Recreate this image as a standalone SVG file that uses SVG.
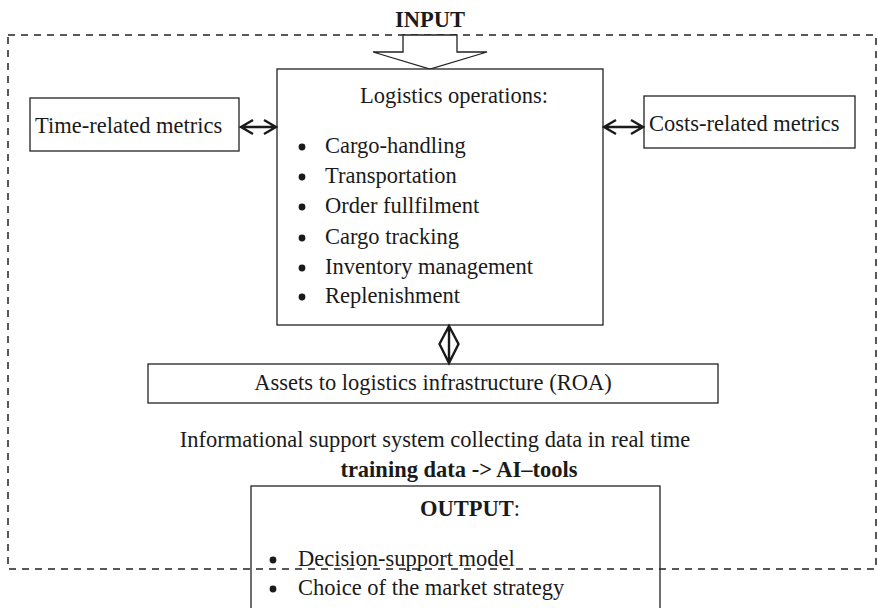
<svg xmlns="http://www.w3.org/2000/svg" width="877" height="608" viewBox="0 0 877 608">
<style>
  .box { fill: #fff; stroke: #222; stroke-width: 1.3; }
  .obox { fill: none; stroke: #222; stroke-width: 1.3; }
  .t { font-family: "Liberation Serif", "Times New Roman", serif; font-size: 22.5px; fill: #1a1a1a; }
  .b { font-weight: bold; }
  .ln { fill: none; stroke: #1a1a1a; stroke-width: 2.4; }
  .frame { fill: none; stroke: #222; stroke-width: 1.5; stroke-dasharray: 7 6; }
</style>
<rect id="frame" class="frame" x="8" y="35" width="868" height="534"/>
<g id="input">
  <text class="t b" x="430" y="27" text-anchor="middle">INPUT</text>
  <polygon class="box" points="403,35 457,35 457,52 487,52 430,69 373,52 403,52"/>
</g>
<g id="logistics">
  <rect class="box" x="277" y="69" width="326" height="256"/>
  <text class="t" x="360" y="103">Logistics operations:</text>
  <g class="t">
    <circle cx="302" cy="147" r="3.4" fill="#1a1a1a"/><text x="325" y="153">Cargo-handling</text>
    <circle cx="302" cy="177" r="3.4" fill="#1a1a1a"/><text x="325" y="183">Transportation</text>
    <circle cx="302" cy="207" r="3.4" fill="#1a1a1a"/><text x="325" y="213">Order fullfilment</text>
    <circle cx="302" cy="238" r="3.4" fill="#1a1a1a"/><text x="325" y="244">Cargo tracking</text>
    <circle cx="302" cy="268" r="3.4" fill="#1a1a1a"/><text x="325" y="274">Inventory management</text>
    <circle cx="302" cy="297" r="3.4" fill="#1a1a1a"/><text x="325" y="303">Replenishment</text>
  </g>
</g>
<g id="time">
  <rect class="box" x="30" y="98" width="209" height="53"/>
  <text class="t" x="35" y="133">Time-related metrics</text>
</g>
<g id="costs">
  <rect class="box" x="644" y="96" width="211" height="52"/>
  <text class="t" x="649" y="131">Costs-related metrics</text>
</g>
<g id="assets">
  <rect class="box" x="148" y="364" width="570" height="39"/>
  <text class="t" x="433" y="390" text-anchor="middle">Assets to logistics infrastructure (ROA)</text>
</g>
<g id="info">
  <text class="t" x="435" y="447" text-anchor="middle">Informational support system collecting data in real time</text>
  <text class="t b" x="459" y="477" text-anchor="middle">training data -&gt; AI–tools</text>
</g>
<g id="output">
  <rect class="obox" x="251" y="486" width="409" height="140"/>
  <text class="t" x="420" y="516"><tspan class="b">OUTPUT</tspan>:</text>
  <circle cx="273" cy="560" r="3.4" fill="#1a1a1a"/><text class="t" x="298" y="566">Decision-support model</text>
  <circle cx="273" cy="589" r="3.4" fill="#1a1a1a"/><text class="t" x="298" y="595">Choice of the market strategy</text>
</g>
<g id="connectors">
  <path class="ln" d="M241,127 H276 M253,120 L241,127 L253,134 M264,120 L276,127 L264,134"/>
  <path class="ln" d="M604,127 H643 M616,120 L604,127 L616,134 M631,120 L643,127 L631,134"/>
  <path class="ln" d="M449,326 V363 M449,326 L439.5,344 L449,363 L458.5,344 Z"/>
</g>
</svg>
